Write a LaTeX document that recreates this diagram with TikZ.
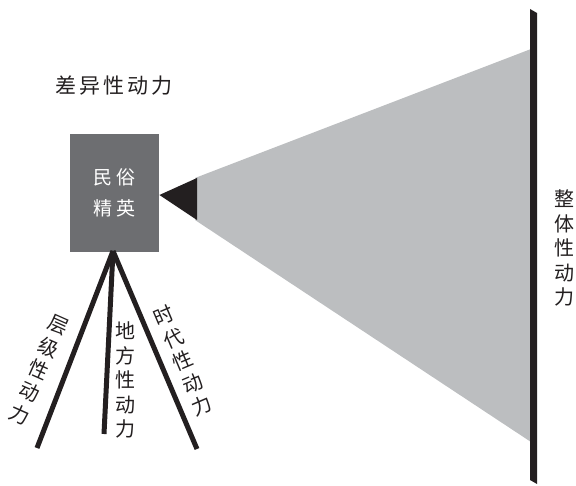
\documentclass[tikz,border=0pt]{standalone}
\usepackage{fontspec}
\setmainfont{Noto Sans CJK SC}
\definecolor{boxgray}{RGB}{109,110,113}
\definecolor{fangray}{RGB}{188,190,192}
\definecolor{ink}{RGB}{35,31,32}
\newcommand\lsp{\kern3pt}
\begin{document}
\begin{tikzpicture}[x=1pt,y=-1pt,
  lbl/.style={text=ink, inner sep=0pt, align=center, font=\fontsize{20}{24.5}\selectfont},
  leg/.style={draw=ink, line width=5pt},
  ]
\useasboundingbox (0,0) rectangle (576,486);
% gray fan
\fill[fangray] (195,178) -- (531,49) -- (531,442) -- (195,220) -- cycle;
% vertical bar
\fill[ink] (530,9) -- (537,13) -- (537,484) -- (530,480) -- cycle;
% elite box
\node[fill=boxgray, minimum width=89pt, minimum height=118pt, inner sep=0pt,
      anchor=north west, text=white, align=center,
      font=\fontsize{19}{31}\selectfont] (elite) at (70,134) {民\kern4pt 俗\\精\kern4pt 英};
% black triangle
\fill[ink] (elite.east |- 0,195) -- (197,178) -- (197,220) -- cycle;
% legs
\coordinate (apex) at (113,251);
\coordinate (lend) at (37,448);
\coordinate (mend) at (104,434);
\coordinate (rend) at (197,449);
\draw[leg] (apex) -- (lend);
\draw[leg] (apex) -- (mend);
\draw[leg] (apex) -- (rend);
% labels
\node[lbl, font=\fontsize{21}{24}\selectfont] (diff) at (114,86) {差\lsp 异\lsp 性\lsp 动\lsp 力};
\node[lbl] (whole) at (564,248) {整\\体\\性\\动\\力};
\node[lbl, rotate=-24] (level) at (39,370) {层\\级\\性\\动\\力};
\node[lbl] (local) at (125,380) {地\\方\\性\\动\\力};
\node[lbl, rotate=23] (era) at (183,361) {时\\代\\性\\动\\力};
\end{tikzpicture}
\end{document}
